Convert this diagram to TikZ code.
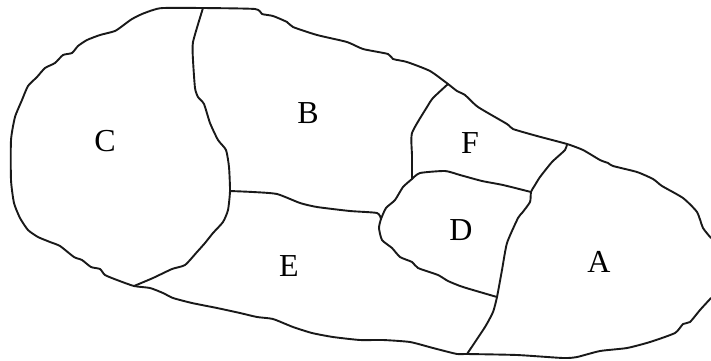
\documentclass[tikz,border=0pt]{standalone}
\usepackage{fontspec}
\setmainfont{Liberation Serif}
\usepackage{tikz}
\tikzset{
  border/.style={black!90, line width=1.9pt, line join=round, line cap=round},
  regionlabel/.style={font=\fontsize{32}{32}\selectfont, inner sep=0pt}
}

\begin{document}
\begin{tikzpicture}[x=1pt, y=-1pt]
  \useasboundingbox (0,0) rectangle (711,360);
  \coordinate (topCB) at (203,8);
  \coordinate (tipCE) at (134,286);
  \coordinate (midBE) at (230,191);
  \coordinate (midDE) at (381,219);
  \coordinate (topBF) at (448,84);
  \coordinate (topFA) at (567,144);
  \coordinate (midFD) at (412,179);
  \coordinate (midDA) at (531,192);
  \coordinate (lowDE) at (497,297);
  \coordinate (botEA) at (467,354);
  % outer outline, from the right edge over the top and back along the bottom
  \draw[border] plot[smooth, tension=0.35] coordinates {
    (711,238) (703,228) (697,212) (683,198) (662,186) (653,179) (637,172) (613,166)
    (608,163) (600,160) (583,150) (topFA) (537,136) (513,129) (507,124) (478,107)
    (465,95) (457,91) (topBF) (430,71) (407,62) (393,59) (388,54) (363,49)
    (347,42) (317,35) (293,27) (287,22) (273,16) (262,14) (255,9) (topCB)
    (163,8) (153,10) (142,14) (132,19) (125,24) (115,31) (100,35) (87,40)
    (78,46) (72,53) (63,55) (55,63) (45,68) (37,77) (28,86) (22,100)
    (15,117) (11,140) (11,180) (14,203) (20,218) (28,230) (38,237) (50,242)
    (60,246) (74,257) (82,260) (91,267) (100,269) (105,275) (117,280) (tipCE)
    (150,288) (163,293) (173,298) (192,303) (217,308) (240,313) (257,317) (273,319)
    (293,327) (312,333) (333,337) (360,340) (383,340) (410,342) (433,348) (457,354)
    (botEA) (517,355) (563,358) (577,357) (600,351) (627,348) (650,342) (675,333)
    (683,324) (690,322) (700,310) (711,298)};
  % inner boundaries
  \draw[border] plot[smooth, tension=0.35] coordinates {
    (topCB) (193,42) (193,60) (195,88) (198,97) (204,104) (210,123) (218,140)
    (226,150) (229,167) (midBE) (228,210) (223,222) (213,233) (205,243) (197,252)
    (185,265) (172,269) (153,278) (tipCE)};
  \draw[border] plot[smooth, tension=0.35] coordinates {
    (midBE) (253,192) (277,194) (300,203) (317,207) (350,211) (377,213) (midDE)};
  \draw[border] plot[smooth, tension=0.35] coordinates {
    (midFD) (403,187) (395,200) (386,208) (midDE) (379,228) (382,240) (392,248)
    (400,257) (412,262) (418,268) (438,275) (448,281) (463,287) (lowDE)};
  \draw[border] plot[smooth, tension=0.35] coordinates {
    (topBF) (433,98) (427,107) (412,133) (412,156) (midFD)};
  \draw[border] plot[smooth, tension=0.35] coordinates {
    (midFD) (420,173) (445,171) (460,175) (482,181) (503,185) (midDA)};
  \draw[border] plot[smooth, tension=0.35] coordinates {
    (topFA) (565,150) (552,162) (540,177) (535,185) (midDA) (530,202) (522,213)
    (518,218) (507,243) (502,270) (lowDE) (493,312) (485,327) (botEA)};
  % region letters
  \node[regionlabel] (regionA) at (599,262) {A};
  \node[regionlabel] (regionB) at (308,113) {B};
  \node[regionlabel] (regionC) at (105,141) {C};
  \node[regionlabel] (regionD) at (461,230) {D};
  \node[regionlabel] (regionE) at (289,266) {E};
  \node[regionlabel] (regionF) at (470,143) {F};
\end{tikzpicture}
\end{document}
